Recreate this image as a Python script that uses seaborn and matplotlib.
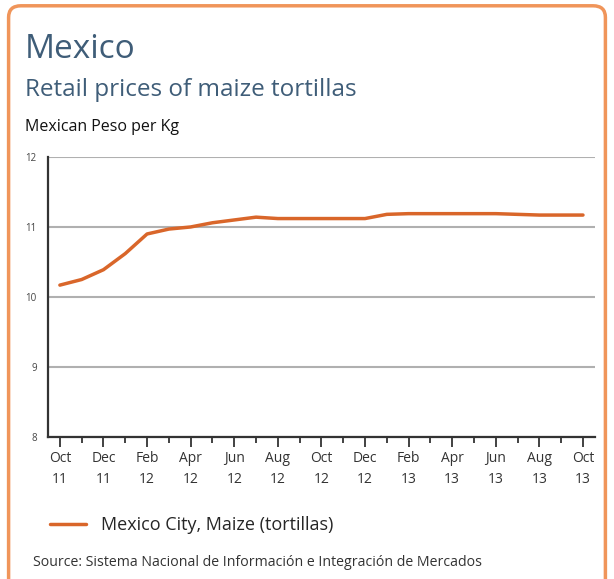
import matplotlib
matplotlib.use("Agg")
import matplotlib.pyplot as plt
from matplotlib.patches import FancyBboxPatch
from matplotlib.lines import Line2D
import seaborn as sns
import pandas as pd

sns.set_style("white")
plt.rcParams["font.family"] = ["Open Sans", "DejaVu Sans"]

# monthly retail price, Oct 2011 - Oct 2013
months = ["Oct 11", "Nov 11", "Dec 11", "Jan 12", "Feb 12", "Mar 12", "Apr 12",
          "May 12", "Jun 12", "Jul 12", "Aug 12", "Sep 12", "Oct 12", "Nov 12",
          "Dec 12", "Jan 13", "Feb 13", "Mar 13", "Apr 13", "May 13", "Jun 13",
          "Jul 13", "Aug 13", "Sep 13", "Oct 13"]
prices = [10.17, 10.25, 10.39, 10.62, 10.90, 10.97, 11.00, 11.06, 11.10, 11.14,
          11.12, 11.12, 11.12, 11.12, 11.12, 11.18, 11.19, 11.19, 11.19, 11.19,
          11.19, 11.18, 11.17, 11.17, 11.17]
tick_labels = ["Oct\n11", "Dec\n11", "Feb\n12", "Apr\n12", "Jun\n12", "Aug\n12", "Oct\n12",
               "Dec\n12", "Feb\n13", "Apr\n13", "Jun\n13", "Aug\n13", "Oct\n13"]
series_name = "Mexico City, Maize (tortillas)"

df = pd.DataFrame({"month": range(len(months)), "price": prices})

orange = "#d9662a"
title_col = "#3f5d78"

fig = plt.figure(figsize=(6.14, 5.79), dpi=100)
fig.patch.set_facecolor("white")

# orange rounded frame
frame = FancyBboxPatch((0.014, -0.03), 0.972, 1.02, boxstyle="round,pad=0,rounding_size=0.02",
                       transform=fig.transFigure, facecolor="none", edgecolor="#f0955a",
                       linewidth=2.5, zorder=-1)
fig.patches.append(frame)

ax = fig.add_axes([0.078, 0.245, 0.891, 0.484])
ax.set_facecolor("none")
sns.lineplot(data=df, x="month", y="price", ax=ax, color=orange, linewidth=2.5)

ax.set_xlim(-0.55, 24.55)
ax.set_ylim(8, 12)
ax.set_yticks([8, 9, 10, 11, 12])
ax.set_yticklabels(["8", "9", "10", "11", "12"], fontsize=7, color="#444444")
ax.set_xticks(range(0, 25, 2))
ax.set_xticklabels(tick_labels, fontsize=10, color="#333333", linespacing=1.5)
ax.set_xticks(range(1, 25, 2), minor=True)
ax.tick_params(axis="x", which="both", bottom=True)
ax.tick_params(axis="x", which="major", direction="out", length=7, width=1.3, color="#333333", pad=3)
ax.tick_params(axis="x", which="minor", direction="out", length=4, width=1.3, color="#333333")
ax.tick_params(axis="y", which="major", length=0, pad=8)
ax.set_xlabel("")
ax.set_ylabel("")
ax.grid(axis="y", color="#b0b0b0", linewidth=1.5)
ax.set_axisbelow(True)
for s in ["top", "right"]:
    ax.spines[s].set_visible(False)
ax.spines["left"].set_color("#333333")
ax.spines["left"].set_linewidth(1.6)
ax.spines["bottom"].set_color("#333333")
ax.spines["bottom"].set_linewidth(1.6)

fig.text(0.04, 0.9, "Mexico", fontsize=24, color=title_col, va="baseline")
fig.text(0.04, 0.834, "Retail prices of maize tortillas", fontsize=17.5, color=title_col, va="baseline")
fig.text(0.04, 0.774, "Mexican Peso per Kg", fontsize=11.5, color="#111111", va="baseline")

fig.legend(handles=[Line2D([], [], color=orange, linewidth=2.5)], labels=[series_name],
           loc="center left", bbox_to_anchor=(0.055, 0.093), frameon=False,
           fontsize=13, handlelength=2.0, handletextpad=0.8)

fig.text(0.054, 0.022, "Source: Sistema Nacional de Información e Integración de Mercados",
         fontsize=10.2, color="#333333", va="baseline")

fig.savefig("out.png", dpi=100)
